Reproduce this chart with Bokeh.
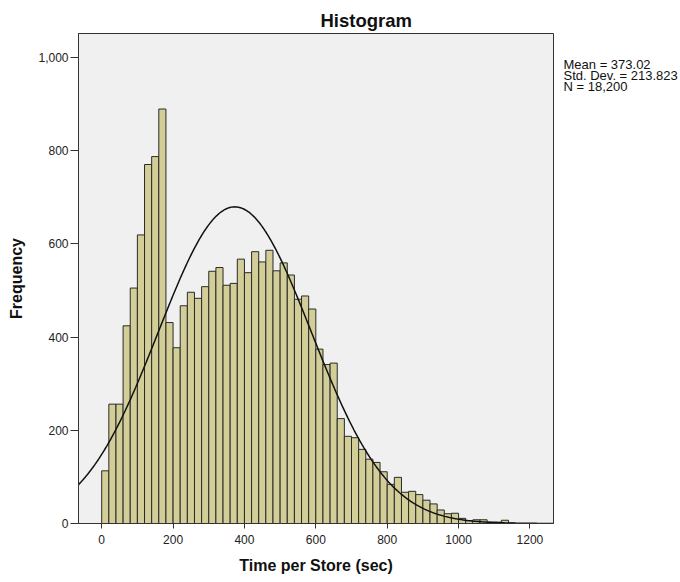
import numpy as np
from bokeh.plotting import figure
from bokeh.layouts import row
from bokeh.models import NumeralTickFormatter, FixedTicker, Range1d, ColumnDataSource
from bokeh.embed import file_html
from bokeh.resources import INLINE

# ---- data ----
bin_start = 0
bin_width = 20
counts = [113, 256, 256, 424, 505, 619, 770, 787, 889, 431,
          377, 467, 496, 483, 508, 541, 549, 511, 515, 567,
          538, 583, 561, 586, 542, 559, 533, 481, 488, 460,
          374, 341, 344, 225, 187, 184, 159, 138, 131, 111,
          84, 99, 67, 69, 62, 50, 42, 29, 21, 22,
          11, 6, 8, 8, 3, 3, 7, 1]
x_ticks = [0, 200, 400, 600, 800, 1000, 1200]
y_ticks = [0, 200, 400, 600, 800, 1000]
stat_mean = 373.02
stat_sd = 213.823
stat_n = 18200
stat_lines = ["Mean = 373.02", "Std. Dev. = 213.823", "N = 18,200"]
title_text = "Histogram"
x_label = "Time per Store (sec)"
y_label = "Frequency"

FONT = "Liberation Sans"

lefts = [bin_start + i * bin_width for i in range(len(counts))]
rights = [l + bin_width for l in lefts]
src = ColumnDataSource(dict(left=lefts, right=rights, top=counts))

x0, x1 = -65, 1266
p = figure(width=560, height=582, output_backend="svg", toolbar_location=None,
           x_range=Range1d(x0, x1), y_range=Range1d(0, 1051),
           min_border_left=78, min_border_right=7, min_border_top=33,
           min_border_bottom=59)
p.background_fill_color = "#f0f0f0"
p.border_fill_color = "white"
p.outline_line_color = "#333333"
p.outline_line_width = 1
p.grid.visible = False

p.title.text = title_text
p.title.align = "left"
p.title.offset = 242
p.title.standoff = 5
p.title.text_font = FONT
p.title.text_font_style = "bold"
p.title.text_font_size = "18.5px"
p.title.text_color = "#111111"

p.quad(left="left", right="right", bottom=0, top="top", source=src,
       fill_color="#d3ce97", line_color="#2a2a2a", line_width=1)

# fitted normal curve from the displayed statistics
xs = np.linspace(x0, x1, 500)
ys = stat_n * bin_width / (stat_sd * np.sqrt(2 * np.pi)) * np.exp(-0.5 * ((xs - stat_mean) / stat_sd) ** 2)
p.line(xs, ys, line_color="#111111", line_width=1.5)

for ax in (p.xaxis[0], p.yaxis[0]):
    ax.axis_line_color = "#333333"
    ax.major_tick_line_color = "#333333"
    ax.minor_tick_line_color = None
    ax.major_tick_in = 0
    ax.major_label_text_font = FONT
    ax.major_label_text_font_size = "12px"
    ax.major_label_text_color = "#222222"
    ax.axis_label_text_font = FONT
    ax.axis_label_text_font_style = "bold"
    ax.axis_label_text_font_size = "16px"
    ax.axis_label_text_color = "#111111"

p.xaxis.ticker = FixedTicker(ticks=x_ticks)
p.yaxis.ticker = FixedTicker(ticks=y_ticks)
p.yaxis.formatter = NumeralTickFormatter(format="0,0")
p.xaxis.major_tick_out = 5
p.yaxis.major_tick_out = 8
p.xaxis.major_label_standoff = 6
p.yaxis.major_label_standoff = 2
p.xaxis.axis_label = x_label
p.yaxis.axis_label = y_label
p.xaxis.axis_label_standoff = 10
p.yaxis.axis_label_standoff = 10

# side panel with the summary statistics (its frame is aligned with the main frame,
# so its y range is expressed in page pixels from 33 to 523)
s = figure(width=120, height=582, output_backend="svg", toolbar_location=None,
           title=None, x_range=Range1d(0, 120), y_range=Range1d(523, 33),
           x_axis_location=None, y_axis_location=None,
           min_border=0, min_border_left=0, min_border_right=0,
           min_border_top=33, min_border_bottom=59)
s.outline_line_color = None
s.background_fill_color = "white"
s.border_fill_color = "white"
s.grid.visible = False
s.text(x=[3, 3, 3], y=[64, 75, 86], text=stat_lines,
       text_font={"value": FONT}, text_font_size="13px",
       text_align="left", text_baseline="middle", text_color="#111111")

layout = row(p, s)
open("out.html", "w").write(file_html(layout, INLINE))
